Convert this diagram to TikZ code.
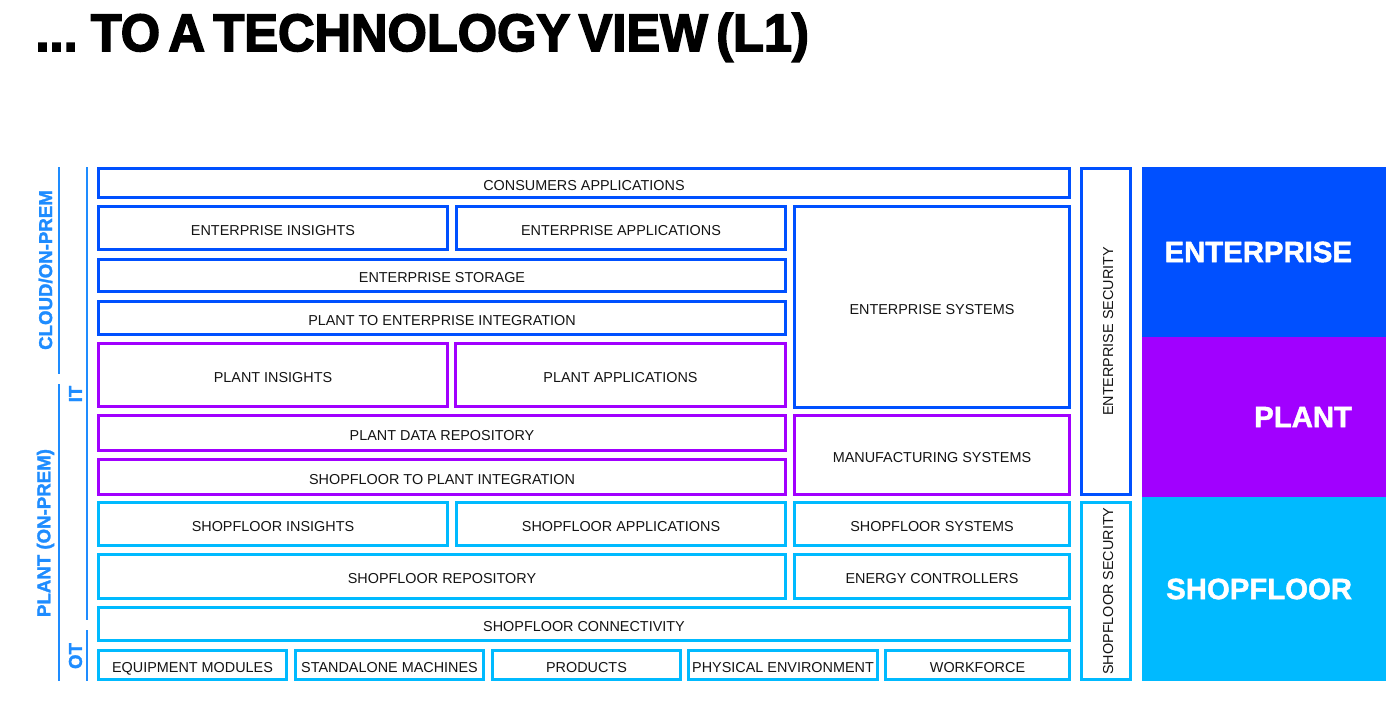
\documentclass[tikz,border=0pt]{standalone}
\usepackage{fontspec}
\setmainfont{Liberation Sans}
\newfontfamily\heavyfont{Liberation Sans Bold}[FakeBold=1.6]
\newfontfamily\titlefont{Liberation Sans Bold}[FakeBold=3, WordSpace=0.6]

\definecolor{entblue}{RGB}{0,80,255}
\definecolor{plantpurple}{RGB}{161,0,255}
\definecolor{shopcyan}{RGB}{0,186,255}
\definecolor{sideblue}{RGB}{30,140,255}
\definecolor{labelgray}{RGB}{20,20,20}

\tikzset{every picture/.style={line width=0.75pt}}
\tikzset{
  tvbox/.style={draw, line width=2.2pt, inner sep=0pt, outer sep=0pt, fill=white,
    text=labelgray, text height=10.7pt, text depth=0pt, font=\fontsize{10.8}{13}\selectfont},
  entbox/.style={tvbox, draw=entblue},
  plantbox/.style={tvbox, draw=plantpurple},
  shopbox/.style={tvbox, draw=shopcyan},
  panel/.style={inner sep=0pt, outer sep=0pt, text=white, font=\heavyfont\fontsize{22}{24}\selectfont},
  sideline/.style={draw=sideblue, line width=1.6pt},
  sidelabel/.style={inner sep=0pt, text=sideblue, rotate=90, font=\heavyfont\fontsize{14}{16}\selectfont},
}

% box from outer corners (x1,y1) to (x2,y2)
\newcommand{\layerbox}[7]{%
  \node[#1, minimum width={(#5-#3-3)*0.75pt}, minimum height={(#6-#4-3)*0.75pt}]
    (#2) at ({(#3+#5)/2},{(#4+#6)/2}) {#7};}
% same, text running upwards
\newcommand{\layervbox}[7]{%
  \node[#1, rotate=90, minimum width={(#6-#4-3)*0.75pt}, minimum height={(#5-#3-3)*0.75pt}]
    (#2) at ({(#3+#5)/2},{(#4+#6)/2}) {#7};}

\begin{document}
\begin{tikzpicture}[x=0.75pt,y=0.75pt,yscale=-1,xscale=1]
\useasboundingbox (0,0) rectangle (1386,701);

% Title
\node[anchor=base west, inner sep=0pt, font=\titlefont\fontsize{39.5}{44}\selectfont] (title) at (35,51)
  {\scalebox{0.96}[1]{... TO A TECHNOLOGY VIEW (L1)}};

% Side scale
\draw[sideline] (59,167) -- (59,374);
\draw[sideline] (59,384) -- (59,681);
\draw[sideline] (87,167) -- (87,620);
\draw[sideline] (87,630) -- (87,681);
\node[sidelabel] (cloud) at (45.5,270) {CLOUD/ON-PREM};
\node[sidelabel] (plantside) at (45.5,533) {PLANT (ON-PREM)};
\node[sidelabel] (itside) at (75.5,394) {IT};
\node[sidelabel] (otside) at (75.5,656) {OT};

% Enterprise layer
\layerbox{entbox}{cons}{97}{167}{1071}{199}{CONSUMERS APPLICATIONS}
\layerbox{entbox}{entins}{97}{205}{449}{251}{ENTERPRISE INSIGHTS}
\layerbox{entbox}{entapp}{455}{205}{787}{251}{ENTERPRISE APPLICATIONS}
\layerbox{entbox}{entsys}{793}{205}{1071}{409}{ENTERPRISE SYSTEMS}
\layerbox{entbox}{entsto}{97}{258}{787}{293}{ENTERPRISE STORAGE}
\layerbox{entbox}{ptoe}{97}{300}{787}{336}{PLANT TO ENTERPRISE INTEGRATION}

% Plant layer
\layerbox{plantbox}{plins}{97}{342}{449}{408}{PLANT INSIGHTS}
\layerbox{plantbox}{plapp}{454}{342}{787}{408}{PLANT APPLICATIONS}
\layerbox{plantbox}{pldata}{97}{414}{787}{452}{PLANT DATA REPOSITORY}
\layerbox{plantbox}{stop}{97}{458}{787}{496}{SHOPFLOOR TO PLANT INTEGRATION}
\layerbox{plantbox}{mfg}{793}{414}{1071}{496}{MANUFACTURING SYSTEMS}

% Shopfloor layer
\layerbox{shopbox}{shins}{97}{501}{449}{547}{SHOPFLOOR INSIGHTS}
\layerbox{shopbox}{shapp}{455}{501}{787}{547}{SHOPFLOOR APPLICATIONS}
\layerbox{shopbox}{shsys}{793}{501}{1071}{547}{SHOPFLOOR SYSTEMS}
\layerbox{shopbox}{shrep}{97}{553}{787}{600}{SHOPFLOOR REPOSITORY}
\layerbox{shopbox}{energy}{793}{553}{1071}{600}{ENERGY CONTROLLERS}
\layerbox{shopbox}{shconn}{97}{606}{1071}{642}{SHOPFLOOR CONNECTIVITY}
\layerbox{shopbox}{equip}{97}{649}{288}{681}{EQUIPMENT MODULES}
\layerbox{shopbox}{standalone}{294}{649}{485}{681}{STANDALONE MACHINES}
\layerbox{shopbox}{products}{491}{649}{682}{681}{PRODUCTS}
\layerbox{shopbox}{physenv}{687}{649}{879}{681}{PHYSICAL ENVIRONMENT}
\layerbox{shopbox}{workforce}{884}{649}{1071}{681}{WORKFORCE}

% Security columns
\layervbox{entbox}{entsec}{1080}{167}{1132}{496}{ENTERPRISE SECURITY}
\layervbox{shopbox}{shsec}{1080}{501}{1132}{681}{SHOPFLOOR SECURITY}

% Level panels
\node[panel, fill=entblue, minimum width=183pt, minimum height=127.5pt] (entpanel) at (1264,252)
  {\makebox[132pt][r]{ENTERPRISE}};
\node[panel, fill=plantpurple, minimum width=183pt, minimum height=120pt] (plantpanel) at (1264,417)
  {\makebox[132pt][r]{PLANT}};
\node[panel, fill=shopcyan, minimum width=183pt, minimum height=138pt] (shoppanel) at (1264,589)
  {\makebox[132pt][r]{SHOPFLOOR}};
\end{tikzpicture}
\end{document}
